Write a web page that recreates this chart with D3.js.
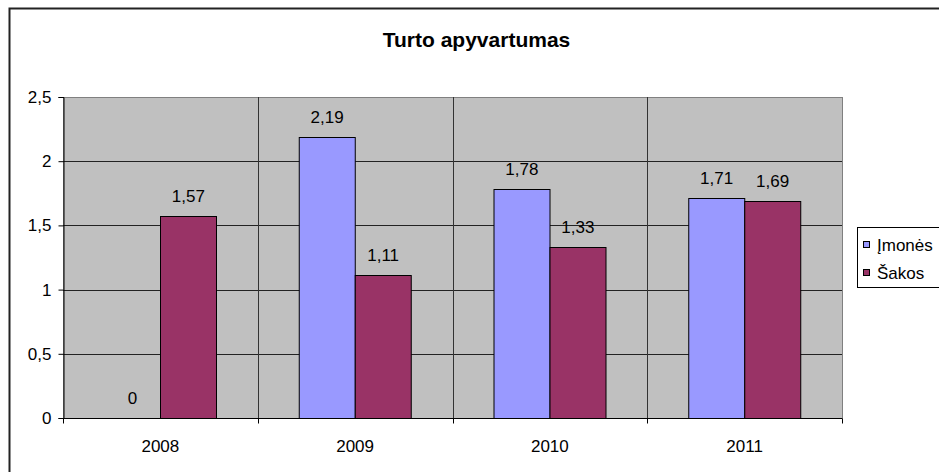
<!DOCTYPE html>
<html>
<head>
<meta charset="utf-8">
<script src="https://cdn.jsdelivr.net/npm/d3@7"></script>
<style>
  html, body { margin: 0; padding: 0; background: #fff; }
  svg { display: block; font-family: "Liberation Sans", Arial, sans-serif; }
</style>
</head>
<body>
<svg id="chart" width="939" height="472"></svg>
<script>
// Chart data
const title = "Turto apyvartumas";
const years = ["2008", "2009", "2010", "2011"];
const seriesNames = ["Įmonės", "Šakos"];
const imones = [0, 2.19, 1.78, 1.71];
const sakos = [1.57, 1.11, 1.33, 1.69];
const yTicks = [0, 0.5, 1, 1.5, 2, 2.5];
const colors = ["#9999FF", "#993366"];

const seriesValues = [imones, sakos];
const rows = years.map((yr, i) => ({
  year: yr,
  values: seriesNames.map((s, k) => ({ series: s, k, value: seriesValues[k][i] }))
}));

const fmt = v => String(v).replace(".", ",");

const svg = d3.select("#chart");
const W = 939, H = 472;
const plot = { left: 63, right: 842, top: 97, bottom: 418 };

// Outer chart frame
svg.append("rect")
  .attr("x", 9.5).attr("y", 8.5)
  .attr("width", W + 10).attr("height", H + 10)
  .attr("fill", "#fff")
  .attr("stroke", "#222").attr("stroke-width", 2);

// Title
svg.append("text")
  .attr("x", 476.5).attr("y", 47)
  .attr("text-anchor", "middle")
  .attr("font-size", 21).attr("font-weight", "bold")
  .attr("fill", "#000")
  .text(title);

// Scales
const x0 = d3.scaleBand().domain(years).range([plot.left, plot.right]).padding(0);
const bw = x0.bandwidth();
const x1 = d3.scaleBand().domain(seriesNames)
  .range([bw * 0.2125, bw * 0.7875]).padding(0);
const y = d3.scaleLinear().domain([0, 2.5]).range([plot.bottom, plot.top]);

// Plot background
svg.append("rect")
  .attr("x", plot.left).attr("y", plot.top)
  .attr("width", plot.right - plot.left).attr("height", plot.bottom - plot.top)
  .attr("fill", "#C0C0C0")
  .attr("stroke", "#808080").attr("stroke-width", 1)
  .attr("shape-rendering", "crispEdges");

// Horizontal gridlines
svg.append("g")
  .selectAll("line")
  .data(yTicks.filter(t => t > 0))
  .join("line")
  .attr("x1", plot.left).attr("x2", plot.right)
  .attr("y1", d => Math.round(y(d)) + 0.5).attr("y2", d => Math.round(y(d)) + 0.5)
  .attr("stroke", d => d === 2.5 ? "#808080" : "#222")
  .attr("stroke-width", 1);

// Vertical gridlines at category boundaries
svg.append("g")
  .selectAll("line")
  .data(years.slice(1))
  .join("line")
  .attr("x1", d => Math.round(x0(d)) + 0.5).attr("x2", d => Math.round(x0(d)) + 0.5)
  .attr("y1", plot.top).attr("y2", plot.bottom)
  .attr("stroke", "#333").attr("stroke-width", 1);

// Bars
const groups = svg.append("g")
  .selectAll("g")
  .data(rows)
  .join("g")
  .attr("transform", d => `translate(${x0(d.year)},0)`);

groups.selectAll("rect")
  .data(d => d.values)
  .join("rect")
  .attr("x", d => Math.round(x1(d.series)) + 0.5)
  .attr("y", d => Math.round(y(d.value)) + 0.5)
  .attr("width", Math.round(x1.bandwidth()))
  .attr("height", d => Math.max(0, Math.round(y(0)) - Math.round(y(d.value))))
  .attr("fill", d => colors[d.k])
  .attr("stroke", "#000").attr("stroke-width", 1);

// Value labels
groups.selectAll("text")
  .data(d => d.values)
  .join("text")
  .attr("x", d => x1(d.series) + x1.bandwidth() / 2)
  .attr("y", d => y(d.value) - 14)
  .attr("text-anchor", "middle")
  .attr("font-size", 17)
  .attr("fill", "#000")
  .text(d => fmt(d.value));

// Y axis
const yAxis = d3.axisLeft(y).tickValues(yTicks).tickFormat(fmt).tickSize(5).tickPadding(7);
const gy = svg.append("g")
  .attr("transform", `translate(${plot.left + 0.5},0)`)
  .call(yAxis);
gy.select(".domain").attr("stroke", "#000");
gy.selectAll(".tick line").attr("stroke", "#000");
gy.selectAll("text").attr("font-size", 17).attr("font-family", "Liberation Sans, Arial, sans-serif").attr("fill", "#000");

// X axis with ticks at category boundaries
const gx = svg.append("g")
  .attr("transform", `translate(0,${plot.bottom + 0.5})`);
gx.append("line")
  .attr("x1", plot.left).attr("x2", plot.right)
  .attr("stroke", "#000");
gx.selectAll("line.bt")
  .data(years.concat(["end"]))
  .join("line")
  .attr("class", "bt")
  .attr("x1", (d, i) => Math.round(i < years.length ? x0(d) : plot.right) + 0.5)
  .attr("x2", (d, i) => Math.round(i < years.length ? x0(d) : plot.right) + 0.5)
  .attr("y1", 0).attr("y2", 5)
  .attr("stroke", "#000");
gx.selectAll("text")
  .data(years)
  .join("text")
  .attr("x", d => x0(d) + bw / 2)
  .attr("y", 33.5)
  .attr("text-anchor", "middle")
  .attr("font-size", 17)
  .attr("fill", "#000")
  .text(d => d);

// Legend
const legend = svg.append("g");
legend.append("rect")
  .attr("x", 857.5).attr("y", 227.5)
  .attr("width", 90).attr("height", 60)
  .attr("fill", "#fff").attr("stroke", "#000");
const li = legend.selectAll("g.item")
  .data(seriesNames)
  .join("g")
  .attr("class", "item")
  .attr("transform", (d, i) => `translate(0,${i * 28})`);
li.append("rect")
  .attr("x", 863.5).attr("y", 241.5)
  .attr("width", 6).attr("height", 6)
  .attr("fill", (d, i) => colors[i])
  .attr("stroke", "#000");
li.append("text")
  .attr("x", 877).attr("y", 250.5)
  .attr("font-size", 17)
  .attr("fill", "#000")
  .text(d => d);
</script>
</body>
</html>
